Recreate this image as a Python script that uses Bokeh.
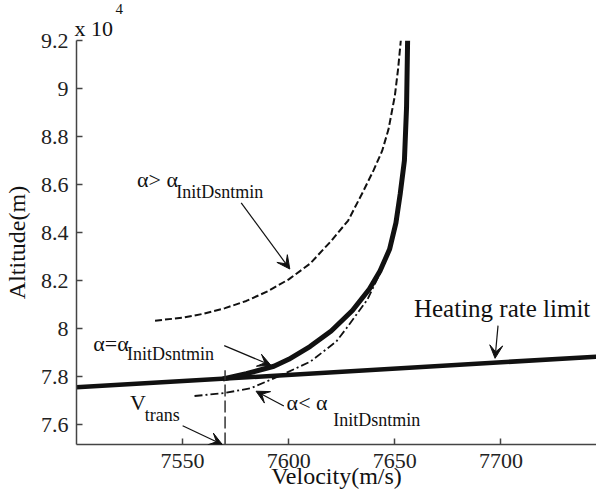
from bokeh.plotting import figure
from bokeh.models import Range1d, FixedTicker, CustomJSTickFormatter, Label, Arrow, VeeHead, Title
from bokeh.embed import file_html
from bokeh.resources import INLINE

# ---------------- data ----------------
x_ticks = [7550, 7600, 7650, 7700]
y_ticks = [76000, 78000, 80000, 82000, 84000, 86000, 88000, 90000, 92000]

heat_v = [7500, 7745]
heat_alt = [77550, 78830]

main_v = [7569, 7580, 7593, 7600, 7610, 7620, 7630, 7638, 7643, 7647.5, 7650.5, 7652.5, 7654.5, 7655.5, 7656]
main_alt = [77900, 78120, 78430, 78720, 79250, 79900, 80750, 81650, 82400, 83300, 84400, 85600, 87000, 89200, 92000]

above_v = [7537, 7550, 7560, 7570, 7580, 7590, 7600, 7610, 7620, 7628, 7635, 7640, 7644, 7647, 7650, 7651.5, 7652.8]
above_alt = [80330, 80450, 80620, 80850, 81150, 81550, 82050, 82700, 83650, 84500, 85700, 86600, 87400, 88300, 89700, 90800, 92000]

below_v = [7555.6, 7569.6, 7582.2, 7596.3, 7610.3, 7622.4, 7627.1, 7637, 7643, 7648]
below_alt = [77190, 77310, 77520, 78050, 78630, 79460, 80000, 81200, 82300, 83400]

vtrans = 7570
vtrans_alt = [75170, 78260]

x_lo, x_hi = 7500, 7745
y_lo, y_hi = 75170, 92000

FONT = "Liberation Serif"
INK = "#111111"

p = figure(width=596, height=491, output_backend="svg", toolbar_location=None,
           x_range=Range1d(x_lo, x_hi), y_range=Range1d(y_lo, y_hi),
           min_border_left=73, min_border_right=0, min_border_top=40, min_border_bottom=46)
p.xgrid.visible = False
p.ygrid.visible = False
p.outline_line_color = None
p.background_fill_color = "white"
p.border_fill_color = "white"

for ax in (p.xaxis[0], p.yaxis[0]):
    ax.axis_line_color = "#444444"
    ax.axis_line_width = 1.5
    ax.major_tick_line_color = "#444444"
    ax.major_tick_line_width = 1.5
    ax.major_tick_in = 6
    ax.major_tick_out = 0
    ax.minor_tick_in = 0
    ax.minor_tick_out = 0
    ax.major_label_text_font = FONT
    ax.major_label_text_font_size = "22px"
    ax.major_label_text_color = "#222222"
    ax.axis_label_text_font = FONT
    ax.axis_label_text_font_style = "normal"
    ax.axis_label_text_color = "#111111"

p.xaxis.major_label_standoff = 9
p.yaxis.major_label_standoff = 8

p.xaxis.ticker = FixedTicker(ticks=x_ticks)
p.yaxis.ticker = FixedTicker(ticks=y_ticks)
p.yaxis.formatter = CustomJSTickFormatter(code="return (tick/10000).toFixed(1).replace(/\\.0$/, '');")
p.yaxis.axis_label = "Altitude(m)"
p.yaxis.axis_label_text_font_size = "24px"
p.yaxis.axis_label_standoff = 8
p.xaxis.axis_label = "Velocity(m/s)"
p.xaxis.axis_label_text_font_size = "24px"
p.xaxis.axis_label_standoff = -8

# exponent note above the frame
p.add_layout(Title(text="x 10", text_font=FONT, text_font_style="normal", text_font_size="22px",
                   text_color=INK, align="left", offset=-2, standoff=0), "above")
p.add_layout(Title(text="4", text_font=FONT, text_font_style="normal", text_font_size="15px",
                   text_color=INK, align="left", offset=39, standoff=0), "above")

# curves
p.line(heat_v, heat_alt, line_color=INK, line_width=4.5)
p.line(main_v, main_alt, line_color=INK, line_width=5)
p.line(above_v, above_alt, line_color=INK, line_width=2, line_dash="7 3")
p.line(below_v, below_alt, line_color=INK, line_width=1.8, line_dash="8 3 2 3")
p.line([vtrans, vtrans], vtrans_alt, line_color="#333333", line_width=1.5, line_dash="12 4")

# annotations
def lab(x, y, text, size, align="left"):
    p.add_layout(Label(x=x, y=y, text=text, text_font=FONT, text_font_size=size,
                       text_color=INK, text_baseline="middle", text_align=align))

def arr(x0, y0, x1, y1):
    p.add_layout(Arrow(end=VeeHead(size=13, fill_color=INK, line_color=INK, line_width=1),
                       x_start=x0, y_start=y0, x_end=x1, y_end=y1,
                       line_color=INK, line_width=1.2))

lab(7528.5, 86190, "α> α", "22px")
lab(7547, 85700, "InitDsntmin", "18px")
arr(7577.6, 85240, 7600.5, 82480)

lab(7507.9, 79380, "α=α", "22px")
lab(7523.8, 78960, "InitDsntmin", "18px")
arr(7569.6, 79290, 7591.6, 78470)

lab(7599, 76900, "α< α", "22px")
lab(7621, 76190, "InitDsntmin", "18px")
arr(7597.7, 76770, 7584.6, 77390)

lab(7525.2, 76900, "V", "22px")
lab(7532.2, 76400, "trans", "18px")
arr(7550, 75950, 7568.7, 75170)

lab(7659, 80820, "Heating rate limit", "25px")
arr(7698.6, 80120, 7697.2, 78760)

open("out.html", "w").write(file_html(p, INLINE))
